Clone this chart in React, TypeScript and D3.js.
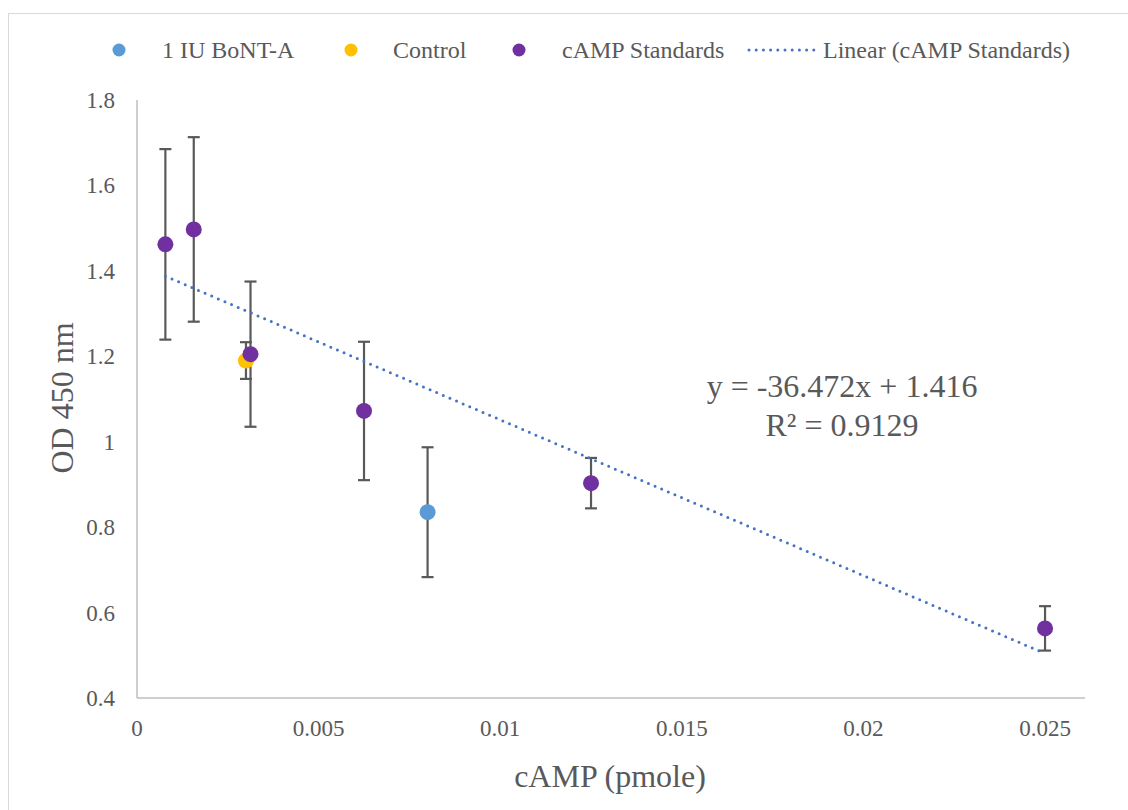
import React from "react";
import * as d3 from "d3";

const standardsX = [0.00078125, 0.0015625, 0.003125, 0.00625, 0.0125, 0.025];
const standardsY = [1.462, 1.497, 1.205, 1.072, 0.903, 0.563];
const standardsErr = [0.223, 0.216, 0.17, 0.162, 0.059, 0.052];

const controlX = [0.003];
const controlY = [1.19];
const controlErr = [0.043];

const bontX = [0.008];
const bontY = [0.835];
const bontErr = [0.152];

const trendSlope = -36.472;
const trendIntercept = 1.416;
const trendRange = [0.00078125, 0.025];

const xTicks = [0, 0.005, 0.01, 0.015, 0.02, 0.025];
const xTickLabels = ["0", "0.005", "0.01", "0.015", "0.02", "0.025"];
const yTicks = [0.4, 0.6, 0.8, 1, 1.2, 1.4, 1.6, 1.8];
const yTickLabels = ["0.4", "0.6", "0.8", "1", "1.2", "1.4", "1.6", "1.8"];

const legendItems = [
  { label: "1 IU BoNT-A", color: "#5B9BD5", type: "dot", x: 119, tx: 162 },
  { label: "Control", color: "#FFC000", type: "dot", x: 351, tx: 393 },
  { label: "cAMP Standards", color: "#7030A0", type: "dot", x: 519, tx: 562 },
  { label: "Linear (cAMP Standards)", color: "#4472C4", type: "line", x: 749, tx: 823 },
];

const W = 1128;
const H = 810;
const FONT = "Liberation Serif";
const TXT = "#595959";

export default function App() {
  const x = d3.scaleLinear().domain([0, 0.0261]).range([137, 1085]);
  const y = d3.scaleLinear().domain([0.4, 1.8]).range([698, 100]);

  const trendLine = d3
    .line<number>()
    .x((d) => x(d))
    .y((d) => y(trendSlope * d + trendIntercept))(trendRange);

  const errBar = (cx: number, cy: number, e: number, key: string) => (
    <g key={key} stroke="#595959" strokeWidth={2.2}>
      <line x1={x(cx)} x2={x(cx)} y1={y(cy + e)} y2={y(cy - e)} />
      <line x1={x(cx) - 6} x2={x(cx) + 6} y1={y(cy + e)} y2={y(cy + e)} />
      <line x1={x(cx) - 6} x2={x(cx) + 6} y1={y(cy - e)} y2={y(cy - e)} />
    </g>
  );

  return (
    <svg width={W} height={H} style={{ position: "absolute", left: 0, top: 0 }}>
      <rect x={0} y={0} width={W} height={H} fill="#fff" />
      <rect x={8.5} y={13.5} width={W + 10} height={H + 10} fill="#fff" stroke="#D9D9D9" strokeWidth={1} />

      <g fontFamily={FONT} fill={TXT}>
        {yTicks.map((t, i) => (
          <text key={"yt" + i} x={115} y={y(t)} dy="0.35em" textAnchor="end" fontSize={23}>
            {yTickLabels[i]}
          </text>
        ))}
        {xTicks.map((t, i) => (
          <text key={"xt" + i} x={x(t)} y={736} textAnchor="middle" fontSize={23}>
            {xTickLabels[i]}
          </text>
        ))}

        <text x={610} y={787} textAnchor="middle" fontSize={32}>
          cAMP (pmole)
        </text>
        <text transform={`translate(73, 398) rotate(-90)`} textAnchor="middle" fontSize={32}>
          OD 450 nm
        </text>

        <text x={842} y={397} textAnchor="middle" fontSize={32}>
          y = -36.472x + 1.416
        </text>
        <text x={842} y={436} textAnchor="middle" fontSize={32}>
          R² = 0.9129
        </text>

        {legendItems.map((it, i) => (
          <text key={"lt" + i} x={it.tx} y={50} dy="0.35em" fontSize={24}>
            {it.label}
          </text>
        ))}
      </g>

      {/* axes */}
      <line x1={x(0)} x2={x(0)} y1={y(1.8)} y2={y(0.4)} stroke="#BFBFBF" strokeWidth={1.5} />
      <line x1={x(0)} x2={1085} y1={y(0.4)} y2={y(0.4)} stroke="#BFBFBF" strokeWidth={1.5} />

      {/* error bars */}
      {standardsX.map((v, i) => errBar(v, standardsY[i], standardsErr[i], "se" + i))}
      {controlX.map((v, i) => errBar(v, controlY[i], controlErr[i], "ce" + i))}
      {bontX.map((v, i) => errBar(v, bontY[i], bontErr[i], "be" + i))}

      {/* points */}
      {bontX.map((v, i) => (
        <circle key={"b" + i} cx={x(v)} cy={y(bontY[i])} r={8} fill="#5B9BD5" />
      ))}
      {controlX.map((v, i) => (
        <circle key={"c" + i} cx={x(v)} cy={y(controlY[i])} r={8} fill="#FFC000" />
      ))}
      {standardsX.map((v, i) => (
        <circle key={"s" + i} cx={x(v)} cy={y(standardsY[i])} r={8} fill="#7030A0" />
      ))}

      {/* trendline */}
      <path
        d={trendLine || ""}
        fill="none"
        stroke="#4472C4"
        strokeWidth={3}
        strokeDasharray="0 7.2"
        strokeLinecap="round"
      />

      {/* legend markers */}
      {legendItems.map((it, i) =>
        it.type === "dot" ? (
          <circle key={"lm" + i} cx={it.x} cy={50} r={6.5} fill={it.color} />
        ) : (
          <line
            key={"lm" + i}
            x1={it.x}
            x2={it.x + 70}
            y1={50}
            y2={50}
            stroke={it.color}
            strokeWidth={3}
            strokeDasharray="0 7.2"
            strokeLinecap="round"
          />
        )
      )}
    </svg>
  );
}
